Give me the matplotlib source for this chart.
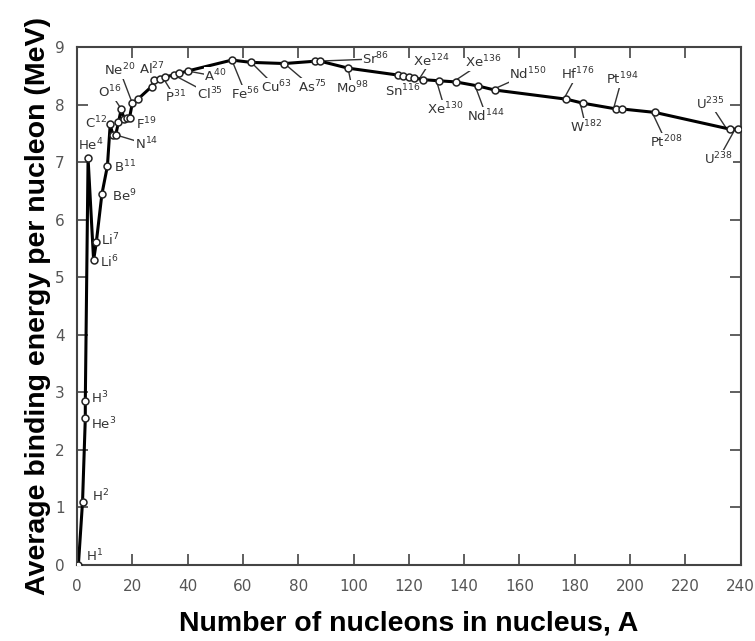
import numpy as np
import matplotlib
matplotlib.use('Agg')
import matplotlib.pyplot as plt

# nucleon number and binding energy per nucleon (MeV), in drawing order
A  = [0.5, 2, 3, 3, 4, 6, 7, 9, 11, 12, 13, 14, 15, 16, 17, 18, 19, 20, 22, 27, 28, 30, 32, 35, 37, 40,
      56, 63, 75, 86, 88, 98, 116, 118, 120, 122, 125, 131, 137, 145, 151, 177, 183, 195, 197, 209, 236, 239]
BE = [0.0, 1.1, 2.55, 2.85, 7.07, 5.3, 5.62, 6.45, 6.94, 7.66, 7.47, 7.48, 7.7, 7.93, 7.76, 7.77, 7.78, 8.03, 8.1, 8.32, 8.43, 8.45, 8.49, 8.52, 8.55, 8.59,
      8.78, 8.74, 8.72, 8.76, 8.76, 8.64, 8.52, 8.5, 8.49, 8.47, 8.44, 8.42, 8.4, 8.33, 8.26, 8.1, 8.03, 7.93, 7.93, 7.87, 7.58, 7.58]

# label text, label position, point the leader goes to (None = no leader)
names  = ['H', 'H', 'H', 'He', 'He', 'Li', 'Li', 'Be', 'B', 'C', 'N', 'O', 'F', 'Ne', 'Al', 'P', 'Cl', 'A',
          'Fe', 'Cu', 'As', 'Sr', 'Mo', 'Sn', 'Xe', 'Xe', 'Xe', 'Nd', 'Nd', 'Hf', 'W', 'Pt', 'Pt', 'U', 'U']
masses = [1, 2, 3, 3, 4, 6, 7, 9, 11, 12, 14, 16, 19, 20, 27, 31, 35, 40,
          56, 63, 75, 86, 98, 116, 124, 130, 136, 144, 150, 176, 182, 194, 208, 235, 238]
lab_x  = [6.5, 8.5, 8, 9.5, 5, 11.5, 12, 17, 17.5, 7, 25, 12, 25, 15.5, 27, 35.5, 48, 50,
          61, 72, 85, 108, 99.5, 118, 128, 133, 147, 148, 163, 181, 184, 197, 213, 229, 232]
lab_y  = [0.15, 1.2, 2.9, 2.45, 7.3, 5.27, 5.65, 6.42, 6.92, 7.68, 7.32, 8.22, 7.67, 8.6, 8.63, 8.13, 8.19, 8.5,
          8.19, 8.31, 8.31, 8.8, 8.29, 8.24, 8.77, 7.93, 8.75, 7.81, 8.54, 8.54, 7.62, 8.45, 7.36, 8.02, 7.06]
lead_x = [None, None, None, None, None, None, None, None, None, None, 14, 16, None, 20, None, 31, 35, 40,
          56, 63, 75, 86, 98, None, 124, 130, 136, 144, 150, 176, 182, 194, 208, 235, 238]
lead_y = [None, None, None, None, None, None, None, None, None, None, 7.48, 7.93, None, 8.03, None, 8.48, 8.52, 8.59,
          8.78, 8.74, 8.72, 8.76, 8.64, None, 8.47, 8.42, 8.4, 8.33, 8.26, 8.1, 8.03, 7.93, 7.87, 7.58, 7.58]

xticks = np.arange(0, 241, 20)
yticks = np.arange(0, 10, 1)

fig = plt.figure(figsize=(7.55, 6.41), dpi=100)
ax = fig.add_axes([0.102, 0.1186, 0.879, 0.8074])

ax.plot(A, BE, color='black', lw=2.2, zorder=2)
ax.plot(A, BE, ls='none', marker='o', ms=5, mfc='white', mec='#222222', mew=1.1, zorder=3)

for i in range(len(names)):
  if lead_x[i] is not None:
    ax.plot([lab_x[i], lead_x[i]], [lab_y[i], lead_y[i]], color='#333333', lw=1.0, zorder=1)
  ax.text(lab_x[i], lab_y[i], names[i] + '$^{' + str(masses[i]) + '}$', fontsize=9.5, color='#333333',
          ha='center', va='center', zorder=4,
          bbox=dict(facecolor='white', edgecolor='none', pad=0.3) if lead_x[i] is not None else None)

ax.set_xlim(0, 240)
ax.set_ylim(0, 9)
ax.set_xticks(xticks)
ax.set_yticks(yticks)
ax.tick_params(direction='in', length=8, width=1.2, top=True, right=True, labelsize=11, labelcolor='#555555', color='#444444')
ax.tick_params(axis='x', pad=10)
ax.tick_params(axis='y', pad=9)
for s in ax.spines.values():
  s.set_linewidth(1.5)
  s.set_color('#444444')

fam = ['Liberation Sans Narrow', 'Liberation Sans', 'DejaVu Sans']
ax.set_ylabel('Average binding energy per nucleon (MeV)', fontsize=20.5, fontweight='bold', family=fam, labelpad=3)
ax.set_xlabel('Number of nucleons in nucleus, A', fontsize=20.5, fontweight='bold', family=fam, labelpad=12)

plt.savefig('out.png', dpi=100)
